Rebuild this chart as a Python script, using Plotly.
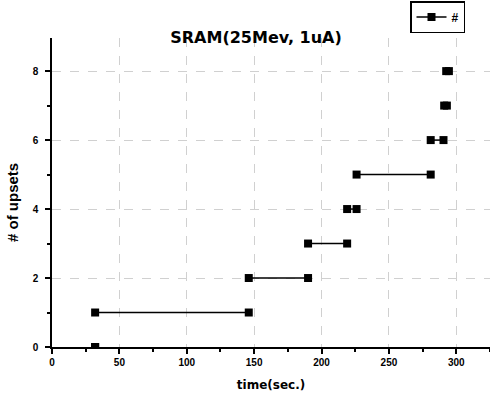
import plotly.graph_objects as go

# Data
levels = [0, 1, 2, 3, 4, 5, 6, 7, 8]
seg_start = [32, 32, 146, 190, 219, 226, 281, 291, 292.5]
seg_end = [32, 146, 190, 219, 226, 281, 290.5, 293, 294.5]
x_ticks = [0, 50, 100, 150, 200, 250, 300]
y_ticks = [0, 2, 4, 6, 8]

xs, ys = [], []
for lv, s, e in zip(levels, seg_start, seg_end):
    xs += [s, e, None]
    ys += [lv, lv, None]

fig = go.Figure()
fig.add_trace(go.Scatter(
    x=xs, y=ys, mode="lines+markers", name="#",
    line=dict(color="black", width=1.5),
    marker=dict(symbol="square", size=8, color="black"),
    connectgaps=False,
))

font = "DejaVu Sans, Liberation Sans, Arial, sans-serif"
font2 = "Liberation Sans, Arial, sans-serif"
fig.update_layout(
    width=490, height=400,
    margin=dict(l=52, r=0, t=38, b=53, autoexpand=False),
    paper_bgcolor="white", plot_bgcolor="white",
    title=dict(text="<b>SRAM(25Mev, 1uA)</b>", x=256 / 490, xanchor="center",
               y=1 - 37 / 400, yanchor="middle",
               font=dict(family=font, size=16, color="black")),
    showlegend=True,
    legend=dict(x=410 / 490, y=1 - 1 / 400, xref="container", yref="container",
                xanchor="left", yanchor="top",
                bordercolor="black", borderwidth=1.5, bgcolor="white",
                font=dict(family=font2, size=12, color="black", weight="bold"),
                itemwidth=30, tracegroupgap=0),
    xaxis=dict(range=[0, 325], tickvals=x_ticks, automargin=False,
               showline=True, linecolor="black", linewidth=1.5,
               ticks="outside", ticklen=5, tickcolor="black", tickwidth=1.5,
               minor=dict(dtick=25, ticks="outside", ticklen=3, tickcolor="black", showgrid=False),
               showgrid=True, gridcolor="#d0d0d0", griddash="dash", gridwidth=1,
               zeroline=False,
               tickfont=dict(family=font2, size=10, color="black", weight="bold"),
               title=dict(text="<b>time(sec.)</b>", standoff=14,
                          font=dict(family=font, size=12, color="black"))),
    yaxis=dict(range=[0, 8.96], tickvals=y_ticks, automargin=False,
               showline=True, linecolor="black", linewidth=1.5,
               ticks="outside", ticklen=5, tickcolor="black", tickwidth=1.5,
               ticklabelstandoff=5,
               minor=dict(dtick=1, ticks="outside", ticklen=3, tickcolor="black", showgrid=False),
               showgrid=True, gridcolor="#d0d0d0", griddash="dash", gridwidth=1,
               zeroline=False,
               tickfont=dict(family=font2, size=10, color="black", weight="bold")),
    annotations=[dict(text="<b># of upsets</b>", textangle=-90,
                      xref="paper", yref="paper",
                      x=(12 - 52) / 438, y=(347 - 203) / 309,
                      xanchor="center", yanchor="middle", showarrow=False,
                      font=dict(family=font2, size=15, color="black"))],
)

fig.write_html(
    "out.html",
    config={"displayModeBar": False},
    post_script="document.body.style.margin='0';document.body.style.overflow='hidden';",
)
